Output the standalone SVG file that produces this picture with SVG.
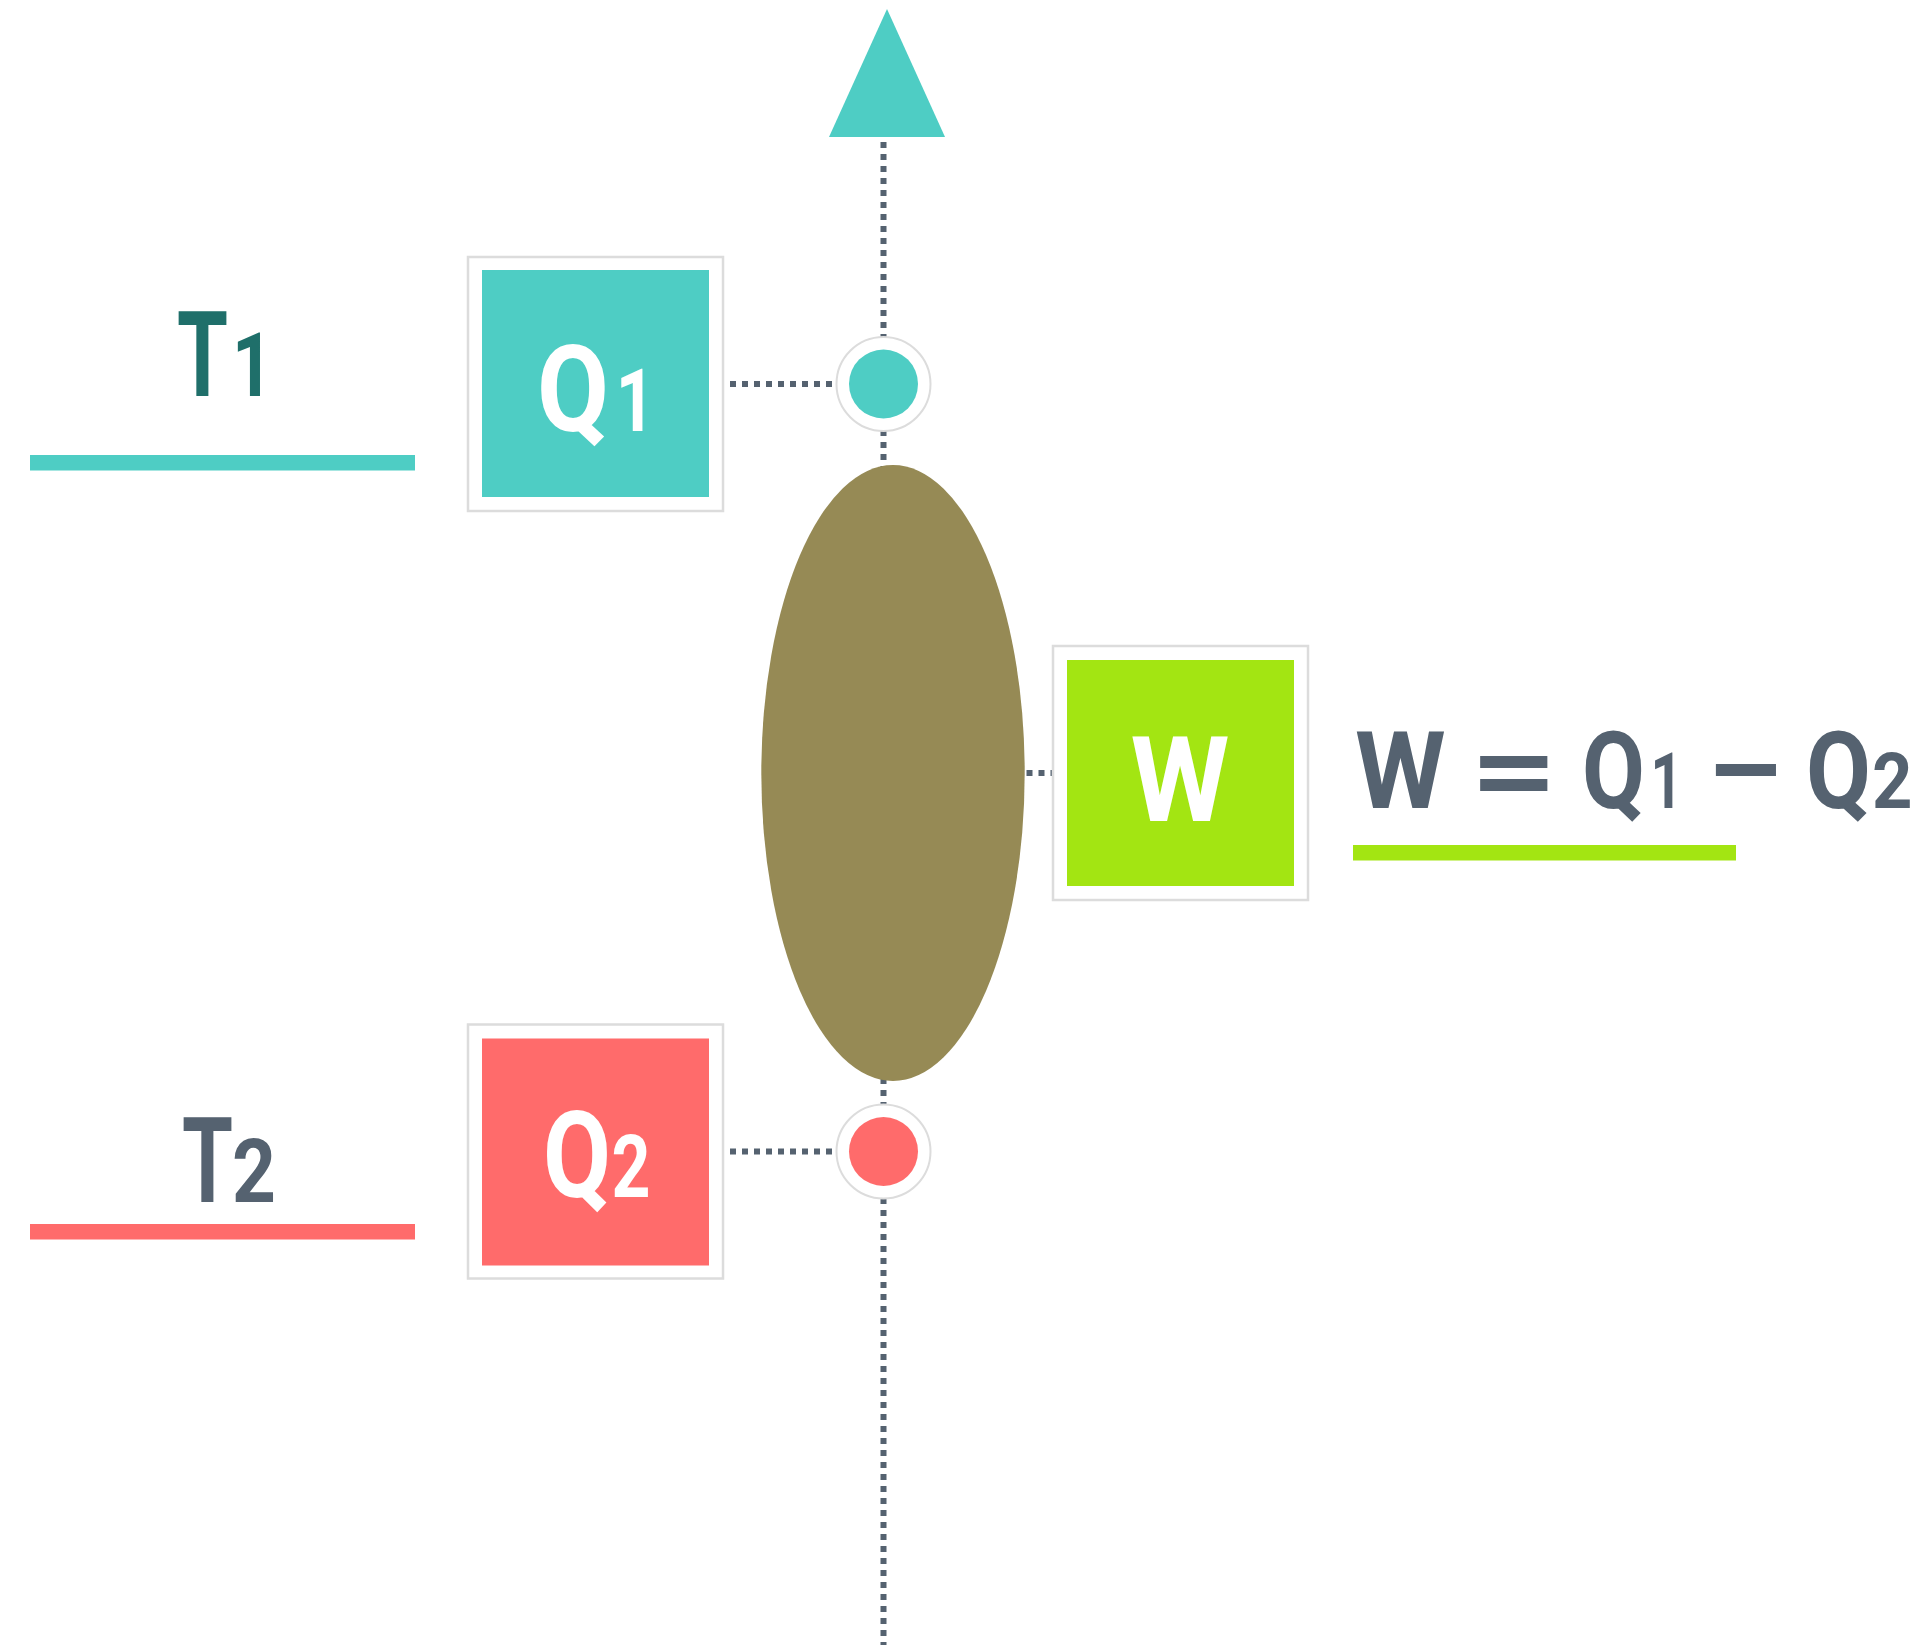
<svg xmlns="http://www.w3.org/2000/svg" width="1929" height="1647" viewBox="0 0 1929 1647">
<style>
.frame{fill:#fff;stroke:#dcdcdc;stroke-width:2.5}
.dots{fill:none;stroke:#556270;stroke-width:6;stroke-dasharray:6 6}
.ring{fill:#fff;stroke:#dcdcdc;stroke-width:2}
.lbl{font-family:Roboto,"Liberation Sans",sans-serif;font-weight:bold}
.white{fill:#fff}
</style>
<rect width="1929" height="1647" fill="#fff"/>
<g id="connectors">
  <line class="dots" x1="883.5" y1="142" x2="883.5" y2="1645"/>
  <line class="dots" x1="730" y1="384" x2="836" y2="384"/>
  <line class="dots" x1="730" y1="1151.5" x2="836" y2="1151.5"/>
  <line class="dots" x1="1026.5" y1="773" x2="1052" y2="773"/>
</g>
<g id="arrow-top">
  <polygon points="829,137 945,137 887,9" fill="#4ECDC4"/>
</g>
<g id="engine">
  <ellipse cx="893" cy="773" rx="131.7" ry="308" fill="#968A55"/>
</g>
<g id="node-top">
  <circle class="ring" cx="883.5" cy="384" r="47"/>
  <circle cx="883.5" cy="384" r="34.5" fill="#4ECDC4"/>
</g>
<g id="node-bottom">
  <circle class="ring" cx="883.5" cy="1151.5" r="47"/>
  <circle cx="883.5" cy="1151.5" r="34.5" fill="#FF6B6B"/>
</g>
<g id="T1">
  <text class="lbl" y="396" fill="#1F6F6A"><tspan x="177" font-size="118" textLength="51" lengthAdjust="spacingAndGlyphs">T</tspan><tspan x="232" font-size="89" textLength="41" lengthAdjust="spacingAndGlyphs">1</tspan></text>
  <rect x="30" y="455" width="385" height="15.5" fill="#4ECDC4"/>
</g>
<g id="T2">
  <text class="lbl" y="1202" fill="#556270"><tspan x="182" font-size="118" textLength="51" lengthAdjust="spacingAndGlyphs">T</tspan><tspan x="232" font-size="89" textLength="44" lengthAdjust="spacingAndGlyphs">2</tspan></text>
  <rect x="30" y="1224" width="385" height="15.5" fill="#FF6B6B"/>
</g>
<g id="Q1">
  <rect class="frame" x="468" y="257" width="255" height="254"/>
  <rect x="482" y="270" width="227" height="227" fill="#4ECDC4"/>
  <text class="lbl white" y="431"><tspan x="537" font-size="121" textLength="72" lengthAdjust="spacingAndGlyphs">Q</tspan><tspan x="615.8" font-size="88" textLength="39" lengthAdjust="spacingAndGlyphs">1</tspan></text>
</g>
<g id="Q2">
  <rect class="frame" x="468" y="1024.5" width="255" height="254"/>
  <rect x="482" y="1038.5" width="227" height="227" fill="#FF6B6B"/>
  <text class="lbl white" y="1197"><tspan x="543" font-size="121" textLength="68" lengthAdjust="spacingAndGlyphs">Q</tspan><tspan x="611.5" font-size="88" textLength="39" lengthAdjust="spacingAndGlyphs">2</tspan></text>
</g>
<g id="W">
  <rect class="frame" x="1053" y="646" width="255" height="254"/>
  <rect x="1067" y="660" width="227" height="226" fill="#A3E512"/>
  <text class="lbl white" x="1130.6" y="821" font-size="118" textLength="99" lengthAdjust="spacingAndGlyphs">W</text>
</g>
<g id="formula">
  <text class="lbl" y="807.7" fill="#556270" font-size="108"><tspan x="1355" textLength="90.7" lengthAdjust="spacingAndGlyphs">W</tspan><tspan x="1470" textLength="88" lengthAdjust="spacingAndGlyphs">=</tspan><tspan x="1582" textLength="63" lengthAdjust="spacingAndGlyphs">Q</tspan><tspan x="1650.6" font-size="77" textLength="32" lengthAdjust="spacingAndGlyphs">1</tspan><tspan x="1706" textLength="79" lengthAdjust="spacingAndGlyphs">−</tspan><tspan x="1806" textLength="65" lengthAdjust="spacingAndGlyphs">Q</tspan><tspan x="1872" font-size="77" textLength="40.5" lengthAdjust="spacingAndGlyphs">2</tspan></text>
  <rect x="1353" y="845" width="383" height="15.5" fill="#A3E512"/>
</g>
</svg>
